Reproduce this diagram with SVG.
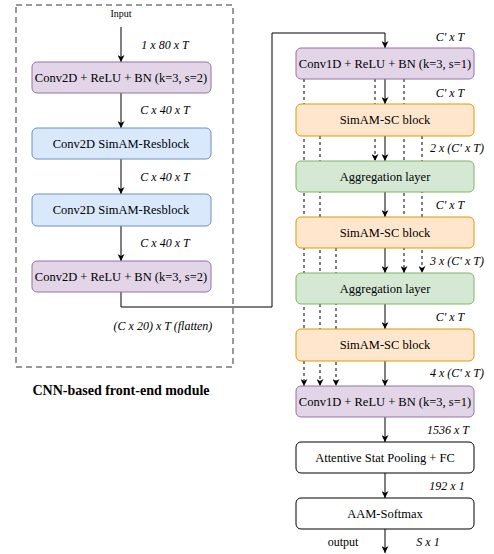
<svg xmlns="http://www.w3.org/2000/svg" width="494" height="554" viewBox="0 0 494 554">
<style>
text{font-family:"Liberation Serif","Times New Roman",serif}
.bt{font-size:12.5px;text-anchor:middle}
.lb{font-size:12px;font-style:italic;text-anchor:middle}
.purple{fill:#e1d5e7;stroke:#9673a6;stroke-width:1}
.blue{fill:#dae8fc;stroke:#6c8ebf;stroke-width:1}
.orange{fill:#ffe6cc;stroke:#d79b00;stroke-width:1}
.green{fill:#d5e8d4;stroke:#82b366;stroke-width:1}
.white{fill:#fff;stroke:#000;stroke-width:1}
.ln{fill:none;stroke:#000;stroke-width:1}
.dl{fill:none;stroke:#000;stroke-width:1;stroke-dasharray:3 3}
</style>
<defs>
<marker id="ah" viewBox="0 0 10 10" refX="10" refY="5" markerWidth="7" markerHeight="7" markerUnits="userSpaceOnUse" orient="auto">
<path d="M0,0 L10,5 L0,10 L3,5 Z" fill="#000"/>
</marker>
</defs>
<rect x="16" y="5" width="217" height="362" fill="none" stroke="#333" stroke-width="1" stroke-dasharray="6 4"/>
<g id="connectors">
<path class="ln" d="M121 27 V62" marker-end="url(#ah)"/>
<path class="ln" d="M121 93 V128" marker-end="url(#ah)"/>
<path class="ln" d="M121 159 V194" marker-end="url(#ah)"/>
<path class="ln" d="M121 226 V261" marker-end="url(#ah)"/>
<path class="ln" d="M121 292 V307 H272 V33 H385 V48" marker-end="url(#ah)"/>
<path class="ln" d="M385 79 V104" marker-end="url(#ah)"/>
<path class="ln" d="M385 136 V161" marker-end="url(#ah)"/>
<path class="ln" d="M385 192 V217" marker-end="url(#ah)"/>
<path class="ln" d="M385 248 V273" marker-end="url(#ah)"/>
<path class="ln" d="M385 304 V329" marker-end="url(#ah)"/>
<path class="ln" d="M385 361 V386" marker-end="url(#ah)"/>
<path class="ln" d="M385 417 V442" marker-end="url(#ah)"/>
<path class="ln" d="M385 473 V498" marker-end="url(#ah)"/>
<path class="ln" d="M385 529 V553" marker-end="url(#ah)"/>
<path class="dl" d="M375 79 V161" marker-end="url(#ah)"/>
<path class="dl" d="M404 79 V273" marker-end="url(#ah)"/>
<path class="dl" d="M422 136 V273" marker-end="url(#ah)"/>
<path class="dl" d="M304 79 V386" marker-end="url(#ah)"/>
<path class="dl" d="M320 136 V386" marker-end="url(#ah)"/>
<path class="dl" d="M336 248 V386" marker-end="url(#ah)"/>
</g>
<g id="input-label"><text x="121" y="17" font-size="10" text-anchor="middle">Input</text></g>
<g id="l1"><rect class="purple" x="32" y="62" width="179" height="31" rx="5"/><text class="bt" x="121" y="82">Conv2D + ReLU + BN (k=3, s=2)</text></g>
<g id="l2"><rect class="blue" x="32" y="128" width="179" height="31" rx="5"/><text class="bt" x="121" y="148">Conv2D SimAM-Resblock</text></g>
<g id="l3"><rect class="blue" x="32" y="194" width="179" height="32" rx="5"/><text class="bt" x="121" y="214">Conv2D SimAM-Resblock</text></g>
<g id="l4"><rect class="purple" x="32" y="261" width="179" height="31" rx="5"/><text class="bt" x="121" y="281">Conv2D + ReLU + BN (k=3, s=2)</text></g>
<g id="r1"><rect class="purple" x="296" y="48" width="178" height="31" rx="5"/><text class="bt" x="385" y="68">Conv1D + ReLU + BN (k=3, s=1)</text></g>
<g id="r2"><rect class="orange" x="296" y="104" width="178" height="32" rx="5"/><text class="bt" x="385" y="124">SimAM-SC block</text></g>
<g id="r3"><rect class="green" x="296" y="161" width="178" height="31" rx="5"/><text class="bt" x="385" y="181">Aggregation layer</text></g>
<g id="r4"><rect class="orange" x="296" y="217" width="178" height="31" rx="5"/><text class="bt" x="385" y="237">SimAM-SC block</text></g>
<g id="r5"><rect class="green" x="296" y="273" width="178" height="31" rx="5"/><text class="bt" x="385" y="293">Aggregation layer</text></g>
<g id="r6"><rect class="orange" x="296" y="329" width="178" height="32" rx="5"/><text class="bt" x="385" y="349">SimAM-SC block</text></g>
<g id="r7"><rect class="purple" x="296" y="386" width="178" height="31" rx="5"/><text class="bt" x="385" y="406">Conv1D + ReLU + BN (k=3, s=1)</text></g>
<g id="r8"><rect class="white" x="296" y="442" width="178" height="31" rx="5"/><text class="bt" x="385" y="462">Attentive Stat Pooling + FC</text></g>
<g id="r9"><rect class="white" x="296" y="498" width="178" height="31" rx="5"/><text class="bt" x="385" y="518">AAM-Softmax</text></g>
<g id="labels">
<text class="lb" x="165" y="49">1 x 80 x T</text>
<text class="lb" x="165" y="114">C x 40 x T</text>
<text class="lb" x="165" y="181">C x 40 x T</text>
<text class="lb" x="165" y="247">C x 40 x T</text>
<text class="lb" x="163" y="330">(C x 20) x T (flatten)</text>
<text x="121" y="395" font-size="14" font-weight="bold" text-anchor="middle">CNN-based front-end module</text>
<text class="lb" x="450" y="41">C' x T</text>
<text class="lb" x="450" y="97">C' x T</text>
<text class="lb" x="457" y="152">2 x (C' x T)</text>
<text class="lb" x="450" y="209">C' x T</text>
<text class="lb" x="457" y="265">3 x (C' x T)</text>
<text class="lb" x="450" y="321">C' x T</text>
<text class="lb" x="457" y="377">4 x (C' x T)</text>
<text class="lb" x="448" y="434">1536 x T</text>
<text class="lb" x="447" y="490">192 x 1</text>
<text x="343" y="546" font-size="12" text-anchor="middle">output</text>
<text class="lb" x="428" y="546">S x 1</text>
</g>
</svg>
